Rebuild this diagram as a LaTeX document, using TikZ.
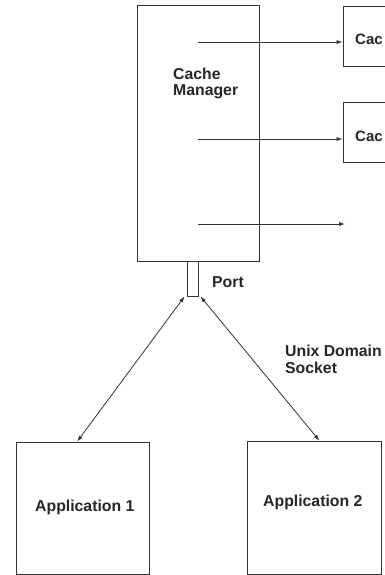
\documentclass[tikz,border=0pt]{standalone}
\usepackage{fontspec}
\setmainfont{Liberation Sans}
\usetikzlibrary{arrows.meta,calc}
\tikzset{
  box/.style={draw=black!80, line width=0.8pt, inner sep=0pt},
  lbl/.style={font=\bfseries\fontsize{15.8}{16.5}\selectfont, inner sep=0pt, align=left, text=black!85},
  arr/.style={draw=black!80, line width=0.8pt, -{Latex[length=6pt,width=4pt]}},
  darr/.style={draw=black!80, line width=0.8pt, {Latex[length=6pt,width=4pt]}-{Latex[length=6pt,width=4pt]}}
}
\begin{document}
\begin{tikzpicture}[x=1pt,y=-1pt]
\useasboundingbox (0,0) rectangle (384,575);
\fill[white] (0,0) rectangle (384,575);
% boxes
\node[box, minimum width=77pt, minimum height=60pt] (cache1) at (381.5,36) {};
\node[box, minimum width=77pt, minimum height=60pt] (cache2) at (381.5,132) {};
\node[box, minimum width=122pt, minimum height=256pt] (cm) at (198,133) {};
\node[box, minimum width=11pt, minimum height=35pt] (port) at (192.5,278.5) {};
\node[box, minimum width=133pt, minimum height=132pt] (app1) at (82.5,508) {};
\node[box, minimum width=134pt, minimum height=133pt] (app2) at (314,507.5) {};
% labels
\node[lbl, anchor=north west] (cmtext) at (173,67.5) {Cache\\Manager};
\node[lbl, anchor=base west, font=\bfseries\fontsize{15}{16}\selectfont] (c1text) at (355,45) {Cac};
\node[lbl, anchor=base west, font=\bfseries\fontsize{15}{16}\selectfont] (c2text) at (355,142) {Cac};
\node[lbl, anchor=north west] (porttext) at (212,276.5) {Port};
\node[lbl, anchor=north west] (socktext) at (285,345) {Unix Domain\\Socket};
\node[lbl, anchor=base west] (a1text) at (35,511) {Application 1};
\node[lbl, anchor=base west] (a2text) at (263,506) {Application 2};
% connectors
\coordinate (a1s) at (198,42);
\coordinate (a2s) at (198,139);
\coordinate (a3s) at (198,224);
\coordinate (a3e) at (345,224);
\draw[arr] (a1s) -- (a1s -| cache1.west);
\draw[arr] (a2s) -- (a2s -| cache2.west);
\draw[arr] (a3s) -- (a3e);
\draw[darr] ([xshift=-2pt]port.south west) -- ($(app1.north west)!0.46!(app1.north east)$);
\draw[darr] ([xshift=2pt]port.south east) -- ($(app2.north west)!0.54!(app2.north east)$);
\end{tikzpicture}
\end{document}
